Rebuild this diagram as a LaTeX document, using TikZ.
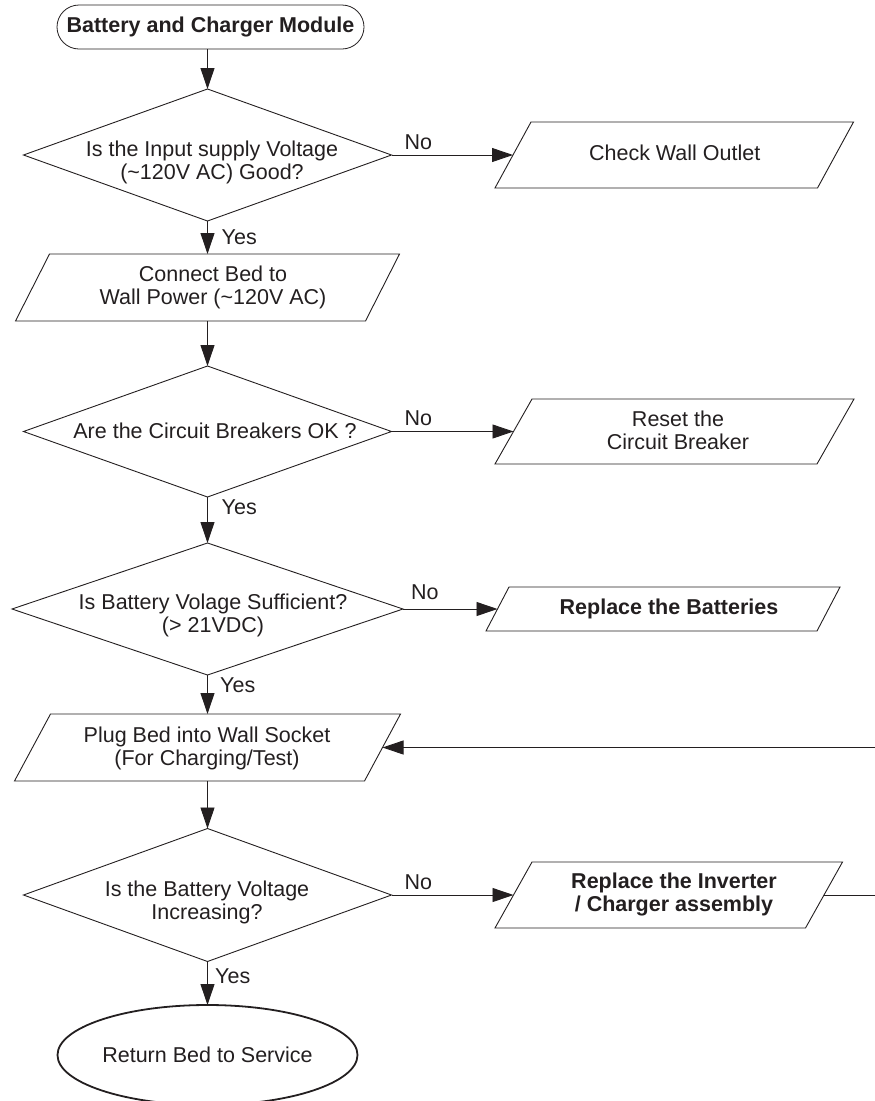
\documentclass[tikz,border=0pt]{standalone}
\usepackage{fontspec}
\setmainfont{Liberation Sans}
\usetikzlibrary{arrows.meta,calc}
\definecolor{ink}{HTML}{231F20}
\newcommand{\ls}{\rule[-5pt]{0pt}{21pt}}
\begin{document}
\begin{tikzpicture}[x=1pt,y=-1pt,
  frame/.style={rectangle, draw=none, inner sep=0pt, outer sep=0pt},
  txt/.style={font=\fontsize{21.5}{23}\selectfont, text=ink, align=center, inner sep=0pt},
  btxt/.style={txt, font=\fontsize{21.5}{23}\selectfont\bfseries},
  lbl/.style={font=\fontsize{21.5}{23}\selectfont, text=ink, anchor=base west, inner sep=0pt},
  outline/.style={draw=ink, line width=0.9pt, line join=miter},
  arr/.style={draw=ink, line width=0.9pt, -{Triangle[length=21pt,width=14pt]}},
  wire/.style={draw=ink, line width=0.9pt}]
\useasboundingbox (0,0) rectangle (875,1101);

% start terminator
\node[frame, draw=ink, line width=0.8pt, rounded corners=22pt, minimum width=307pt, minimum height=44pt, btxt] (T0) at (210.5,27) {\ls Battery and Charger Module};

% decision 1
\node[frame, minimum width=368pt, minimum height=132pt] (D1) at (207.5,155) {};
\draw[outline] (D1.north) -- (D1.east) -- (D1.south) -- (D1.west) -- cycle;
\node[txt] (D1t) at (212,162) {\ls Is the Input supply Voltage\\\ls (\textasciitilde120V AC) Good?};

% check wall outlet
\node[frame, minimum width=322.5pt, minimum height=66pt] (C1) at (674.25,155) {};
\draw[outline] ($(C1.north west)+(18,0)$) -- ($(C1.north east)+(18,0)$) -- ($(C1.south east)+(-18,0)$) -- ($(C1.south west)+(-18,0)$) -- cycle;
\node[txt] (C1t) at (674.7,155.2) {\ls Check Wall Outlet};

% connect bed
\node[frame, minimum width=350pt, minimum height=67pt] (P2) at (207.5,287.5) {};
\draw[outline] ($(P2.north west)+(17,0)$) -- ($(P2.north east)+(17,0)$) -- ($(P2.south east)+(-17,0)$) -- ($(P2.south west)+(-17,0)$) -- cycle;
\node[txt] (P2t) at (213,287.4) {\ls Connect Bed to\\\ls Wall Power (\textasciitilde120V AC)};

% decision 2
\node[frame, minimum width=368pt, minimum height=131pt] (D2) at (207.5,431.5) {};
\draw[outline] (D2.north) -- (D2.east) -- (D2.south) -- (D2.west) -- cycle;
\node[txt] (D2t) at (215,432.5) {\ls Are the Circuit Breakers OK ?};

% reset breaker
\node[frame, minimum width=322pt, minimum height=65pt] (C2) at (674.5,431.5) {};
\draw[outline] ($(C2.north west)+(18.5,0)$) -- ($(C2.north east)+(18.5,0)$) -- ($(C2.south east)+(-18.5,0)$) -- ($(C2.south west)+(-18.5,0)$) -- cycle;
\node[txt] (C2t) at (678,432) {\ls Reset the\\\ls Circuit Breaker};

% decision 3
\node[frame, minimum width=391pt, minimum height=132pt] (D3) at (207.5,609) {};
\draw[outline] (D3.north) -- (D3.east) -- (D3.south) -- (D3.west) -- cycle;
\node[txt] (D3t) at (213,615) {\ls Is Battery Volage Sufficient?\\\ls (> 21VDC)};

% replace batteries
\node[frame, minimum width=331pt, minimum height=44pt] (C3) at (663,609) {};
\draw[outline] ($(C3.north west)+(11.5,0)$) -- ($(C3.north east)+(11.5,0)$) -- ($(C3.south east)+(-11.5,0)$) -- ($(C3.south west)+(-11.5,0)$) -- cycle;
\node[btxt] (C3t) at (669,609) {\ls Replace the Batteries};

% plug bed
\node[frame, minimum width=350pt, minimum height=67pt] (P4) at (207.5,747.5) {};
\draw[outline] ($(P4.north west)+(18,0)$) -- ($(P4.north east)+(18,0)$) -- ($(P4.south east)+(-18,0)$) -- ($(P4.south west)+(-18,0)$) -- cycle;
\node[txt] (P4t) at (207,748) {\ls Plug Bed into Wall Socket\\\ls (For Charging/Test)};

% decision 5
\node[frame, minimum width=368pt, minimum height=133pt] (D5) at (207.5,895) {};
\draw[outline] (D5.north) -- (D5.east) -- (D5.south) -- (D5.west) -- cycle;
\node[txt] (D5t) at (207,902.5) {\ls Is the Battery Voltage\\\ls Increasing?};

% replace inverter
\node[frame, minimum width=310.5pt, minimum height=66pt] (C5) at (668.75,895) {};
\draw[outline] ($(C5.north west)+(18.5,0)$) -- ($(C5.north east)+(18.5,0)$) -- ($(C5.south east)+(-18.5,0)$) -- ($(C5.south west)+(-18.5,0)$) -- cycle;
\node[btxt] (C5t) at (674,894.5) {\ls Replace the Inverter\\\ls / Charger assembly};

% end
\node[frame, minimum width=300pt, minimum height=100pt] (E) at (207.5,1055) {};
\draw[draw=ink, line width=1.8pt] (E.center) ellipse [x radius=150pt, y radius=50pt];
\node[txt] (Et) at (207.5,1056.5) {\ls Return Bed to Service};

% free ends of the loop
\coordinate (fbin) at (875,747.5);
\coordinate (fbout) at (875,895);

% connectors
\draw[arr] (D1.north |- T0.south) -- (D1.north);
\draw[arr] (D1.south) -- (P2.north);
\draw[arr] (P2.south) -- (D2.north);
\draw[arr] (D2.south) -- (D3.north);
\draw[arr] (D3.south) -- (P4.north);
\draw[arr] (P4.south) -- (D5.north);
\draw[arr] (D5.south) -- (E.north);
\draw[arr] (D1.east) -- (C1.west);
\draw[arr] (D2.east) -- (C2.west);
\draw[arr] (D3.east) -- (C3.west);
\draw[arr] (D5.east) -- (C5.west);
\draw[wire] (C5.east) -- (fbout);
\draw[arr] (fbin) -- (P4.east);

% labels
\node[lbl] (n1) at ($(D1.east)+(13,-5.7)$) {No};
\node[lbl] (n2) at ($(D2.east)+(13,-6)$) {No};
\node[lbl] (n3) at ($(D3.east)+(8,-10)$) {No};
\node[lbl] (n5) at ($(D5.east)+(13,-6)$) {No};
\node[lbl] (y1) at ($(D1.south)+(14,23.5)$) {Yes};
\node[lbl] (y2) at ($(D2.south)+(14,17)$) {Yes};
\node[lbl] (y3) at ($(D3.south)+(12.5,17.3)$) {Yes};
\node[lbl] (y5) at ($(D5.south)+(7.5,22.3)$) {Yes};
\end{tikzpicture}
\end{document}
